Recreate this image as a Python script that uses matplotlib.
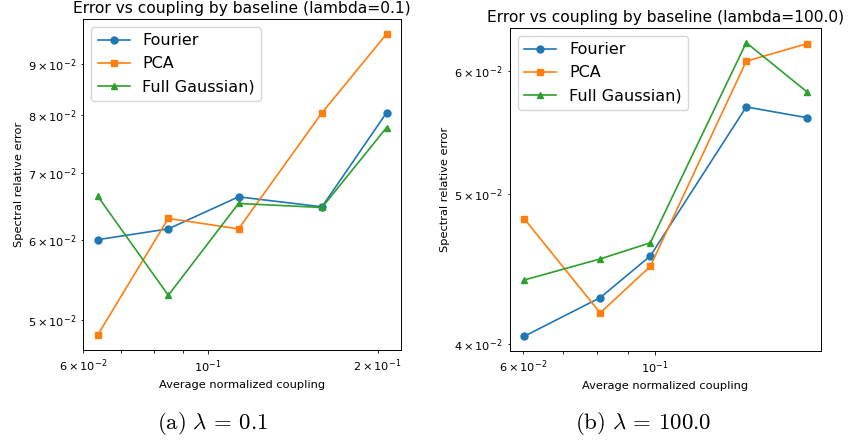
import matplotlib
matplotlib.use("Agg")
import matplotlib.pyplot as plt

plt.rcParams['mathtext.fontset'] = 'cm'

labels = ["Fourier", "PCA", "Full Gaussian)"]
markers = ["o", "s", "^"]

# lambda = 0.1
x_a = [0.0636, 0.0849, 0.1132, 0.1593, 0.2075]
fourier_a = [0.0601, 0.0616, 0.0663, 0.0648, 0.0804]
pca_a = [0.0483, 0.0631, 0.0616, 0.0804, 0.0963]
gauss_a = [0.0664, 0.0529, 0.0653, 0.0647, 0.0777]

# lambda = 100.0
x_b = [0.0602, 0.0809, 0.0983, 0.1427, 0.1806]
fourier_b = [0.04047, 0.04286, 0.0456, 0.0569, 0.0560]
pca_b = [0.0482, 0.0419, 0.0449, 0.0609, 0.0625]
gauss_b = [0.0440, 0.0454, 0.0465, 0.0626, 0.0582]

titles = ["Error vs coupling by baseline (lambda=0.1)",
          "Error vs coupling by baseline (lambda=100.0)"]
captions = [r"$\mathrm{(a)}\ \lambda \,=\, 0.1$", r"$\mathrm{(b)}\ \lambda \,=\, 100.0$"]

fig = plt.figure(figsize=(8.49, 4.40), dpi=100)
ax1 = fig.add_axes([0.0981, 0.2045, 0.3742, 0.7523])
ax2 = fig.add_axes([0.6007, 0.2023, 0.3663, 0.7341])

data = [(ax1, x_a, [fourier_a, pca_a, gauss_a]),
        (ax2, x_b, [fourier_b, pca_b, gauss_b])]

for i, (ax, xs, series) in enumerate(data):
    for ys, lab, m in zip(series, labels, markers):
        ax.plot(xs, ys, marker=m, label=lab, linewidth=1.2, markersize=5)
    ax.set_xscale('log')
    ax.set_yscale('log')
    ax.set_title(titles[i], fontsize=11.2, pad=4.5)
    ax.set_xlabel("Average normalized coupling", fontsize=8.2, labelpad=3)
    ax.set_ylabel("Spectral relative error", fontsize=8.2, labelpad=3)
    ax.tick_params(axis='both', which='both', labelsize=8.2, width=0.6)
    ax.tick_params(axis='both', which='major', length=2.8)
    ax.tick_params(axis='both', which='minor', length=1.8)
    for s in ax.spines.values():
        s.set_linewidth(0.7)
    ax.legend(loc='upper left', fontsize=11.5, handlelength=2.0)

fig.text(0.251, 0.037, captions[0], fontsize=16.5, ha='center', va='center')
fig.text(0.757, 0.037, captions[1], fontsize=16.5, ha='center', va='center')

fig.savefig("out.png", dpi=100)
